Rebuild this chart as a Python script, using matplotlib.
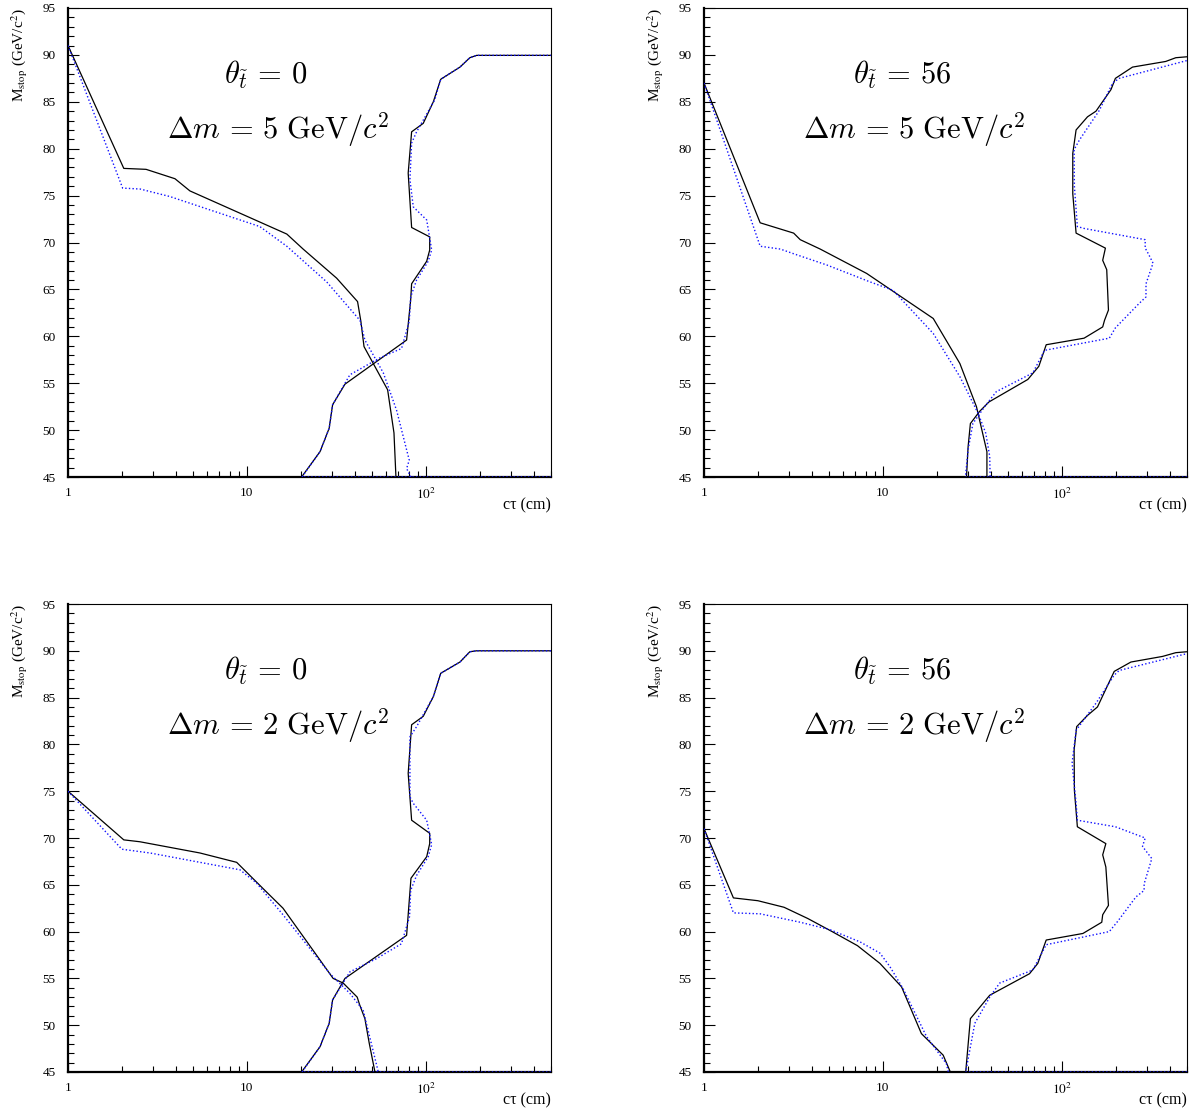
import matplotlib
matplotlib.use("Agg")
import matplotlib.pyplot as plt
from matplotlib.ticker import FixedLocator, FuncFormatter, NullFormatter, MultipleLocator

plt.rcParams["font.family"] = ["Liberation Serif", "DejaVu Serif"]
plt.rcParams["mathtext.fontset"] = "stix"

# ---- data: c*tau (cm) vs M_stop (GeV/c^2) ----
# theta = 0, dm = 5
tl_blk_left_x = [1, 2.05, 2.73, 3.96, 4.8, 16.7, 20.6, 31.7, 41.5, 43.3, 45.1, 61.1, 66.3, 68]
tl_blk_left_m = [91, 77.9, 77.8, 76.8, 75.5, 70.9, 69.3, 66.2, 63.7, 61.6, 58.9, 54.3, 49.7, 45]
tl_blu_left_x = [1, 2.02, 2.53, 3.71, 11.8, 16.7, 27.9, 42.8, 45.6, 57.8, 68.6, 78, 80.7, 78, 82.5]
tl_blu_left_m = [91, 75.8, 75.7, 74.9, 71.7, 69.6, 65.8, 61.7, 59.6, 56.1, 52.1, 47.9, 46.8, 45.9, 45]
tl_blk_right_x = [20.2, 25.6, 28.8, 30.1, 35.3, 78, 82.2, 83.2, 101, 105, 105, 83.2, 79.6, 83.2,
                  96.6, 110, 121, 155, 176, 192, 500]
tl_blk_right_m = [45, 47.7, 50.2, 52.7, 54.9, 59.6, 63.9, 65.6, 68.0, 69.2, 70.6, 71.6, 77.4, 81.8,
                  82.7, 85.0, 87.4, 88.7, 89.7, 89.95, 89.95]
tl_blu_right_x = [500, 20.3, 25.6, 28.8, 30.1, 37.6, 55.3, 73.1, 80.7, 82.2, 88.7, 103, 107.7, 101,
                  85, 81.4, 83.2, 88.7, 112, 121, 155, 176, 192, 500]
tl_blu_right_m = [45, 45, 47.7, 50.2, 52.7, 55.9, 57.7, 58.7, 61.6, 64.2, 66.0, 68.0, 69.2, 72.4,
                  73.8, 76.7, 80.6, 81.8, 85.2, 87.4, 88.7, 89.7, 89.95, 89.95]

# theta = 56, dm = 5
tr_blk_left_x = [1, 2.06, 3.17, 3.45, 4.46, 8.11, 19.1, 26.9, 33.3, 38.1, 38.1]
tr_blk_left_m = [87, 72.1, 71.0, 70.3, 69.3, 66.7, 61.9, 57.1, 52.5, 47.7, 45]
tr_blu_left_x = [1, 2.06, 2.67, 3.17, 4.86, 8.47, 11.4, 14.1, 19.1, 26.9, 34, 37.5, 39.5, 39.7]
tr_blu_left_m = [87, 69.6, 69.3, 68.8, 67.6, 65.8, 64.9, 63.0, 60.3, 55.7, 51.8, 49.7, 47.2, 45]
tr_blk_right_x = [29.3, 29.9, 30.8, 34.7, 39.1, 64.5, 74.3, 81.7, 133, 169, 173, 182, 178, 169,
                  175, 120, 115, 115, 120, 139, 155, 188, 199, 248, 380, 433, 500]
tr_blk_right_m = [45, 48.2, 50.7, 52.0, 53.0, 55.4, 56.8, 59.1, 59.8, 61.0, 61.7, 62.8, 67.1, 68.1,
                  69.4, 71.0, 75.2, 79.5, 82.0, 83.4, 84.0, 86.3, 87.5, 88.7, 89.3, 89.7, 89.8]
tr_blu_right_x = [500, 28.9, 29.9, 31.8, 37, 43, 68.8, 79.9, 184, 199, 270, 295, 295, 323, 304,
                  292, 292, 133, 122, 117.4, 117, 125, 162, 192, 209, 500]
tr_blu_right_m = [45, 45, 47.9, 50.7, 52.5, 54.1, 56.1, 58.5, 59.8, 60.9, 63.5, 64.2, 65.6, 67.8,
                  68.8, 69.4, 70.3, 71.5, 71.7, 76.0, 79.9, 80.9, 84.1, 87.0, 87.5, 89.4]

# theta = 0, dm = 2
bl_blk_left_x = [1, 2.05, 2.52, 5.46, 8.76, 12.6, 15.9, 30.3, 34.5, 41.3, 42.6, 45.6, 48.2, 51.9]
bl_blk_left_m = [75, 69.8, 69.6, 68.4, 67.4, 64.4, 62.5, 55.0, 54.5, 53.0, 52.2, 50.7, 48.1, 45]
bl_blu_left_x = [1, 2.0, 2.87, 9.14, 11.3, 15.9, 29.1, 37.6, 44.6, 54.2]
bl_blu_left_m = [75, 68.8, 68.4, 66.6, 65.2, 61.8, 55.5, 53.4, 51.6, 45]
bl_blk_right_x = [20.2, 25.6, 28.8, 30.1, 35.3, 78, 82.5, 101, 105, 105, 83.2, 79.6, 83.2, 96.6,
                  110, 121, 155, 176, 192, 500]
bl_blk_right_m = [45, 47.7, 50.2, 52.7, 55.0, 59.6, 65.7, 68.0, 69.4, 70.5, 71.9, 76.9, 82.1, 83.0,
                  85.1, 87.6, 88.8, 89.9, 90.0, 90.0]
bl_blu_right_x = [500, 20.3, 25.6, 28.8, 30.1, 37.6, 52.8, 73, 81, 82.2, 88.7, 103, 107.7, 101,
                  85, 81.4, 81.4, 88.7, 110, 121, 155, 176, 192, 500]
bl_blu_right_m = [45, 45, 47.7, 50.2, 52.7, 55.7, 57.1, 58.7, 61.6, 64.4, 66.0, 68.0, 69.3, 71.9,
                  73.7, 74.4, 80.8, 81.9, 85.1, 87.6, 88.8, 89.9, 90.0, 90.0]

# theta = 56, dm = 2
br_blk_left_x = [1, 1.46, 2.0, 2.8, 3.8, 5.2, 7.2, 9.62, 12.7, 16.4, 21.7, 23.8]
br_blk_left_m = [71, 63.6, 63.3, 62.6, 61.4, 60.0, 58.5, 56.6, 54.1, 49.1, 46.8, 45]
br_blu_left_x = [1, 1.46, 2.06, 3.45, 5.07, 7.45, 9.62, 10.9, 12.96, 17.5, 22.6, 23.2]
br_blu_left_m = [71, 62.0, 61.9, 61.0, 60.2, 58.9, 57.7, 56.3, 53.9, 48.8, 45.9, 45]
br_blk_right_x = [29.0, 30.8, 39.5, 65.9, 73.3, 81.7, 131, 167, 169, 182, 176, 169, 176, 122,
                  117.4, 117, 120.9, 139, 158, 196, 243, 365, 433, 500]
br_blk_right_m = [45, 50.7, 53.2, 55.5, 56.6, 59.1, 59.8, 61.0, 61.8, 62.8, 66.9, 68.2, 69.4, 71.2,
                  75.1, 79.4, 81.9, 83.1, 84.0, 87.8, 88.8, 89.4, 89.8, 89.9]
br_blu_right_x = [500, 29.0, 32.6, 39.5, 44.9, 68.8, 81.7, 184, 205, 259, 288, 288, 318, 282, 292,
                  199, 122, 120, 114, 120, 155, 196, 209, 500]
br_blu_right_m = [45, 45, 50.2, 53.0, 54.5, 55.9, 58.6, 60.0, 61.1, 63.7, 64.4, 65.1, 67.8, 69.1,
                  70.0, 71.2, 71.9, 73.7, 78.0, 81.5, 84.4, 87.4, 87.9, 89.7]

panel_theta = ["0", "56", "0", "56"]
panel_dm = ["5", "5", "2", "2"]

panels = [
    (tl_blk_left_x, tl_blk_left_m, tl_blu_left_x, tl_blu_left_m,
     tl_blk_right_x, tl_blk_right_m, tl_blu_right_x, tl_blu_right_m),
    (tr_blk_left_x, tr_blk_left_m, tr_blu_left_x, tr_blu_left_m,
     tr_blk_right_x, tr_blk_right_m, tr_blu_right_x, tr_blu_right_m),
    (bl_blk_left_x, bl_blk_left_m, bl_blu_left_x, bl_blu_left_m,
     bl_blk_right_x, bl_blk_right_m, bl_blu_right_x, bl_blu_right_m),
    (br_blk_left_x, br_blk_left_m, br_blu_left_x, br_blu_left_m,
     br_blk_right_x, br_blk_right_m, br_blu_right_x, br_blu_right_m),
]

W, H = 1192, 1113
fig = plt.figure(figsize=(W / 100, H / 100), dpi=100)

# axes boxes in pixels: left, top, right, bottom
boxes = [(68, 8, 551, 477), (704, 8, 1187, 477),
         (68, 604, 551, 1072), (704, 604, 1187, 1072)]


def dec_fmt(v, pos):
    if abs(v - 1) < 1e-9:
        return "1"
    if abs(v - 10) < 1e-9:
        return "10"
    if abs(v - 100) < 1e-9:
        return r"$10^{2}$"
    return ""


dotted = (0, (1, 1.6))

for i, (box, data) in enumerate(zip(boxes, panels)):
    l, t, r, b = box
    ax = fig.add_axes([l / W, 1 - b / H, (r - l) / W, (b - t) / H])
    bkx, bkm, bux, bum, rkx, rkm, rux, rum = data

    ax.plot(bkx, bkm, color="black", lw=0.9, zorder=3)
    ax.plot(rkx, rkm, color="black", lw=0.9, zorder=3)
    ax.plot(bux, bum, color="#1010ff", lw=1.0, ls=dotted, zorder=4)
    ax.plot(rux, rum, color="#1010ff", lw=1.0, ls=dotted, zorder=4)

    ax.set_xscale("log")
    ax.set_xlim(1, 500)
    ax.set_ylim(45, 95)

    ax.xaxis.set_major_locator(FixedLocator([1, 10, 100]))
    ax.xaxis.set_major_formatter(FuncFormatter(dec_fmt))
    ax.xaxis.set_minor_formatter(NullFormatter())
    ax.yaxis.set_major_locator(MultipleLocator(5))
    ax.yaxis.set_minor_locator(MultipleLocator(1))

    ax.tick_params(which="both", direction="in", top=False, right=False,
                   width=0.8, labelsize=9.5)
    ax.tick_params(which="major", length=8)
    ax.tick_params(which="minor", length=4.5)
    ax.tick_params(axis="y", pad=9)
    ax.tick_params(axis="x", pad=7)

    ax.spines["left"].set_linewidth(1.6)
    ax.spines["bottom"].set_linewidth(1.6)
    ax.spines["top"].set_linewidth(0.8)
    ax.spines["right"].set_linewidth(0.8)

    ax.text(-0.099, 1.0, r"M$_{\rm stop}$ (GeV/c$^{2}$)", transform=ax.transAxes,
            rotation=90, ha="center", va="top", fontsize=11)
    ax.text(1.0, -0.06, "cτ (cm)", transform=ax.transAxes,
            ha="right", va="center", fontsize=11.5)

    ax.text(0.41, 0.857, r"$\theta_{\tilde{t}}\,=\,%s$" % panel_theta[i],
            transform=ax.transAxes, ha="center", va="center",
            fontsize=22, math_fontfamily="cm")
    ax.text(0.435, 0.74, r"$\Delta m\,=\,%s\ \mathrm{GeV}/c^2$" % panel_dm[i],
            transform=ax.transAxes, ha="center", va="center",
            fontsize=22, math_fontfamily="cm")

fig.savefig("out.png", dpi=100, facecolor="white")
